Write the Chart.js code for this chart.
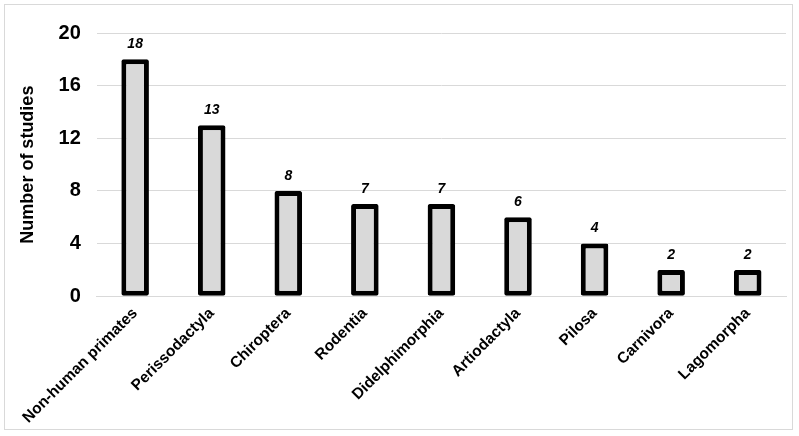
<!DOCTYPE html>
<html>
<head>
<script src="https://cdn.jsdelivr.net/npm/chart.js@4"></script>
<style>
  html, body { margin: 0; padding: 0; background: #fff; }
  #wrap { position: absolute; left: 4px; top: 4px; width: 789px; height: 426px; border: 1px solid #d9d9d9; box-sizing: border-box; }
</style>
</head>
<body>
<div id="wrap"><canvas id="c"></canvas></div>
<script>
const categories = ['Non-human primates', 'Perissodactyla', 'Chiroptera', 'Rodentia',
    'Didelphimorphia', 'Artiodactyla', 'Pilosa', 'Carnivora', 'Lagomorpha'];
const studies = [18, 13, 8, 7, 7, 6, 4, 2, 2];
const yTicks = [0, 2, 4, 6, 8, 10, 12, 14, 16, 18, 20];

const FONT = 'Liberation Sans, Arial, sans-serif';

// Bold italic value above each bar
const valueLabels = {
    id: 'valueLabels',
    afterDatasetsDraw(chart) {
        const { ctx } = chart;
        const meta = chart.getDatasetMeta(0);
        ctx.save();
        ctx.font = `italic bold 14px ${FONT}`;
        ctx.fillStyle = '#000';
        ctx.textAlign = 'center';
        ctx.textBaseline = 'bottom';
        meta.data.forEach((bar, i) => {
            ctx.fillText(String(studies[i]), bar.x, bar.y - 8);
        });
        ctx.restore();
    },
};

new Chart(document.getElementById('c'), {
    type: 'bar',
    data: {
        labels: categories,
        datasets: [{
            data: studies,
            backgroundColor: '#d9d9d9',
            borderColor: '#000',
            borderWidth: 5,
            borderSkipped: false,
            borderRadius: 2,
            barPercentage: 0.36,
            categoryPercentage: 1,
        }],
    },
    options: {
        responsive: true,
        maintainAspectRatio: false,
        animation: false,
        layout: { padding: { top: 10, right: 6, left: 8, bottom: 2 } },
        plugins: { legend: { display: false }, tooltip: { enabled: false } },
        scales: {
            x: {
                grid: { display: false },
                border: { color: '#d9d9d9' },
                ticks: {
                    color: '#000',
                    font: { family: FONT, size: 15.5, weight: 'bold' },
                    maxRotation: 45, minRotation: 45,
                    padding: 0,
                },
            },
            y: {
                min: 0, max: 20,
                afterBuildTicks: axis => { axis.ticks = yTicks.map(v => ({ value: v })); },
                grid: { color: '#d9d9d9', drawTicks: false },
                border: { display: false },
                ticks: {
                    color: '#000',
                    padding: 16,
                    font: { family: FONT, size: 20, weight: 'bold' },
                },
                title: {
                    display: true,
                    text: 'Number of studies',
                    color: '#000',
                    font: { family: FONT, size: 18, weight: 'bold' },
                },
            },
        },
    },
    plugins: [valueLabels],
});
</script>
</body>
</html>
